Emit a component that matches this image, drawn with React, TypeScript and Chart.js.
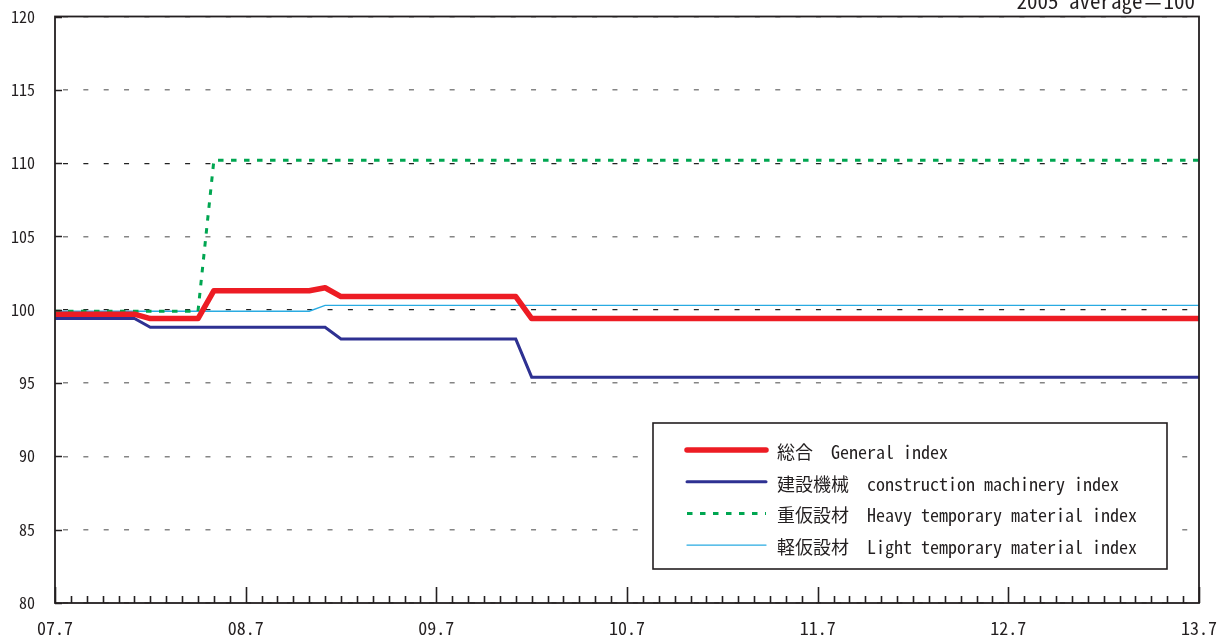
import { useEffect, useRef } from "react";
import { Chart, registerables } from "chart.js";

Chart.register(...registerables);

// ---- categories (monthly, 07.7 .. 13.7) ----
const startYear = 2007;
const startMonth = 7;
const monthCount = 73;
const months: string[] = [];
for (let i = 0; i < monthCount; i++) {
  const m = ((startMonth - 1 + i) % 12) + 1;
  const y = startYear + Math.floor((startMonth - 1 + i) / 12);
  months.push(`${String(y % 100).padStart(2, "0")}.${m}`);
}
const majorEvery = 12; // labelled tick every July

// ---- series values (2005 average = 100) ----
// rows of 12 months starting 07.7
const generalIndex = [
  99.7, 99.7, 99.7, 99.7, 99.7, 99.7, 99.4, 99.4, 99.4, 99.4, 101.3, 101.3,
  101.3, 101.3, 101.3, 101.3, 101.3, 101.5, 100.9, 100.9, 100.9, 100.9, 100.9, 100.9,
  100.9, 100.9, 100.9, 100.9, 100.9, 100.9, 99.4, 99.4, 99.4, 99.4, 99.4, 99.4,
  99.4, 99.4, 99.4, 99.4, 99.4, 99.4, 99.4, 99.4, 99.4, 99.4, 99.4, 99.4,
  99.4, 99.4, 99.4, 99.4, 99.4, 99.4, 99.4, 99.4, 99.4, 99.4, 99.4, 99.4,
  99.4, 99.4, 99.4, 99.4, 99.4, 99.4, 99.4, 99.4, 99.4, 99.4, 99.4, 99.4,
  99.4,
];
const constructionMachinery = [
  99.4, 99.4, 99.4, 99.4, 99.4, 99.4, 98.8, 98.8, 98.8, 98.8, 98.8, 98.8,
  98.8, 98.8, 98.8, 98.8, 98.8, 98.8, 98.0, 98.0, 98.0, 98.0, 98.0, 98.0,
  98.0, 98.0, 98.0, 98.0, 98.0, 98.0, 95.4, 95.4, 95.4, 95.4, 95.4, 95.4,
  95.4, 95.4, 95.4, 95.4, 95.4, 95.4, 95.4, 95.4, 95.4, 95.4, 95.4, 95.4,
  95.4, 95.4, 95.4, 95.4, 95.4, 95.4, 95.4, 95.4, 95.4, 95.4, 95.4, 95.4,
  95.4, 95.4, 95.4, 95.4, 95.4, 95.4, 95.4, 95.4, 95.4, 95.4, 95.4, 95.4,
  95.4,
];
const heavyTemporary = [
  99.9, 99.9, 99.9, 99.9, 99.9, 99.9, 99.9, 99.9, 99.9, 99.9, 110.2, 110.2,
  110.2, 110.2, 110.2, 110.2, 110.2, 110.2, 110.2, 110.2, 110.2, 110.2, 110.2, 110.2,
  110.2, 110.2, 110.2, 110.2, 110.2, 110.2, 110.2, 110.2, 110.2, 110.2, 110.2, 110.2,
  110.2, 110.2, 110.2, 110.2, 110.2, 110.2, 110.2, 110.2, 110.2, 110.2, 110.2, 110.2,
  110.2, 110.2, 110.2, 110.2, 110.2, 110.2, 110.2, 110.2, 110.2, 110.2, 110.2, 110.2,
  110.2, 110.2, 110.2, 110.2, 110.2, 110.2, 110.2, 110.2, 110.2, 110.2, 110.2, 110.2,
  110.2,
];
const lightTemporary = [
  99.9, 99.9, 99.9, 99.9, 99.9, 99.9, 99.9, 99.9, 99.9, 99.9, 99.9, 99.9,
  99.9, 99.9, 99.9, 99.9, 99.9, 100.3, 100.3, 100.3, 100.3, 100.3, 100.3, 100.3,
  100.3, 100.3, 100.3, 100.3, 100.3, 100.3, 100.3, 100.3, 100.3, 100.3, 100.3, 100.3,
  100.3, 100.3, 100.3, 100.3, 100.3, 100.3, 100.3, 100.3, 100.3, 100.3, 100.3, 100.3,
  100.3, 100.3, 100.3, 100.3, 100.3, 100.3, 100.3, 100.3, 100.3, 100.3, 100.3, 100.3,
  100.3, 100.3, 100.3, 100.3, 100.3, 100.3, 100.3, 100.3, 100.3, 100.3, 100.3, 100.3,
  100.3,
];

// ---- labels ----
const seriesNamesJa = ["総合", "建設機械", "重仮設材", "軽仮設材"];
const seriesNamesEn = [
  "General index",
  "construction machinery index",
  "Heavy temporary material index",
  "Light temporary material index",
];
const baseNote = "2005 average＝100";
const yMin = 80;
const yMax = 120;
const yStep = 5;
const darkGridValues = [100, 110];

const FONT = "'Noto Sans Mono CJK JP', 'Noto Sans CJK JP', 'Liberation Mono', monospace";
const INK = "#231F20";

const framePlugin = {
  id: "frameAndTicks",
  afterDatasetsDraw(chart: any) {
    const { ctx, chartArea } = chart;
    const { left, right, top, bottom } = chartArea;
    const xs = chart.scales.x;
    const ys = chart.scales.y;
    ctx.save();
    ctx.strokeStyle = INK;
    ctx.lineWidth = 1.6;
    ctx.beginPath();
    for (let i = 0; i < months.length; i++) {
      const px = Math.round(xs.getPixelForValue(i)) + 0.5;
      const len = i % majorEvery === 0 ? 16 : 7;
      ctx.moveTo(px, bottom);
      ctx.lineTo(px, bottom - len);
    }
    for (let v = yMin; v <= yMax; v += yStep) {
      const py = Math.round(ys.getPixelForValue(v)) + 0.5;
      ctx.moveTo(left, py);
      ctx.lineTo(left + 7, py);
    }
    ctx.stroke();
    ctx.lineWidth = 1.8;
    ctx.strokeRect(left, top, right - left, bottom - top);
    ctx.restore();
  },
};

const legendPlugin = {
  id: "boxLegend",
  afterDraw(chart: any, _args: any, opts: any) {
    const { ctx, chartArea } = chart;
    const bx = chartArea.left + opts.offsetX;
    const by = chartArea.top + opts.offsetY;
    ctx.save();
    ctx.fillStyle = "#ffffff";
    ctx.fillRect(bx, by, opts.width, opts.height);
    ctx.strokeStyle = INK;
    ctx.lineWidth = 1.6;
    ctx.strokeRect(bx, by, opts.width, opts.height);
    chart.data.datasets.forEach((ds: any, i: number) => {
      const cy = by + opts.firstRow + i * opts.rowGap;
      ctx.beginPath();
      ctx.strokeStyle = ds.borderColor;
      ctx.lineWidth = ds.borderWidth;
      ctx.lineCap = ds.borderDash && ds.borderDash.length ? "butt" : "round";
      ctx.setLineDash(ds.borderDash || []);
      ctx.moveTo(bx + opts.lineStart, cy);
      ctx.lineTo(bx + opts.lineEnd, cy);
      ctx.stroke();
      ctx.setLineDash([]);
      ctx.fillStyle = INK;
      ctx.font = `18px ${FONT}`;
      ctx.textBaseline = "middle";
      ctx.textAlign = "left";
      ctx.fillText(ds.label, bx + opts.textStart, cy + 2);
    });
    ctx.restore();
  },
};

const notePlugin = {
  id: "baseNote",
  afterDraw(chart: any) {
    const { ctx, chartArea } = chart;
    ctx.save();
    ctx.fillStyle = INK;
    ctx.font = `21px ${FONT}`;
    ctx.textAlign = "right";
    ctx.textBaseline = "alphabetic";
    ctx.fillText(baseNote, chartArea.right - 4, 8.5);
    ctx.restore();
  },
};

export default function App() {
  const canvasRef = useRef<HTMLCanvasElement | null>(null);

  useEffect(() => {
    document.body.style.margin = "0";
    document.body.style.overflow = "hidden";
    const canvas = canvasRef.current;
    if (!canvas) return;
    const chart = new Chart(canvas, {
      type: "line",
      data: {
        labels: months,
        datasets: [
          {
            label: `${seriesNamesJa[0]}  ${seriesNamesEn[0]}`,
            data: generalIndex,
            borderColor: "#ED1C24",
            borderWidth: 5.5,
            borderJoinStyle: "round",
          },
          {
            label: `${seriesNamesJa[1]}  ${seriesNamesEn[1]}`,
            data: constructionMachinery,
            borderColor: "#2E3192",
            borderWidth: 3,
          },
          {
            label: `${seriesNamesJa[2]}  ${seriesNamesEn[2]}`,
            data: heavyTemporary,
            borderColor: "#00A651",
            borderWidth: 3,
            borderDash: [5.5, 7.5],
          },
          {
            label: `${seriesNamesJa[3]}  ${seriesNamesEn[3]}`,
            data: lightTemporary,
            borderColor: "#29ABE2",
            borderWidth: 1.4,
          },
        ] as any,
      },
      options: {
        responsive: false,
        animation: false,
        devicePixelRatio: 1,
        layout: { padding: { top: 16.5, right: 26, left: 0, bottom: 0 } },
        elements: { point: { radius: 0 }, line: { tension: 0 } },
        plugins: {
          legend: { display: false },
          tooltip: { enabled: false },
          boxLegend: {
            offsetX: 598,
            offsetY: 406.5,
            width: 514,
            height: 146,
            firstRow: 27,
            rowGap: 31.7,
            lineStart: 34,
            lineEnd: 113,
            textStart: 124,
          },
        } as any,
        scales: {
          x: {
            type: "category",
            afterFit: (s: any) => {
              s.height = 36;
              s.paddingLeft = 0;
              s.paddingRight = 0;
            },
            afterBuildTicks: (s: any) => {
              s.ticks = s.ticks.filter((t: any) => t.value % majorEvery === 0);
            },
            grid: { display: false, drawTicks: false },
            border: { display: false },
            ticks: {
              autoSkip: false,
              maxRotation: 0,
              padding: 14,
              color: INK,
              font: { family: FONT, size: 18 },
            },
          },
          y: {
            min: yMin,
            max: yMax,
            afterFit: (s: any) => {
              s.width = 55;
              s.paddingTop = 0;
              s.paddingBottom = 0;
            },
            grid: {
              drawTicks: false,
              lineWidth: (c: any) =>
                c.tick && darkGridValues.includes(c.tick.value) ? 1.2 : 1.6,
              color: (c: any) =>
                c.tick && darkGridValues.includes(c.tick.value) ? "#222222" : "#858585",
            },
            border: { display: false, dash: [5, 15.35], dashOffset: 12.35 },
            ticks: {
              stepSize: yStep,
              padding: 20,
              color: INK,
              font: { family: FONT, size: 16 },
            },
          },
        },
      },
      plugins: [framePlugin, legendPlugin, notePlugin],
    });
    return () => chart.destroy();
  }, []);

  return (
    <div style={{ width: 1225, height: 639 }}>
      <canvas ref={canvasRef} width={1225} height={639} style={{ display: "block" }} />
    </div>
  );
}
